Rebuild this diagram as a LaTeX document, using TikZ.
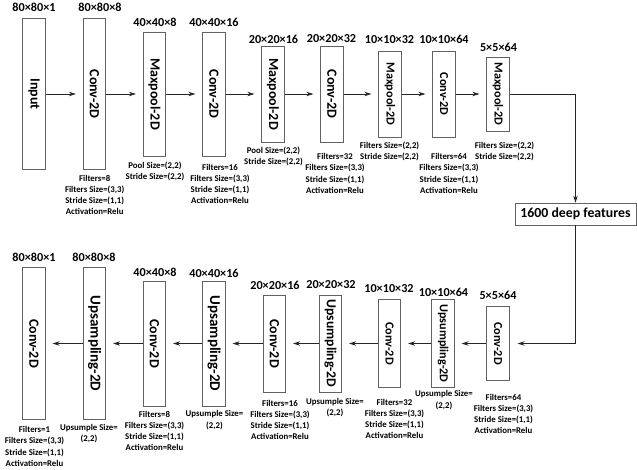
\documentclass[tikz,border=0pt]{standalone}
\usepackage{fontspec}
\usepackage{graphicx}
\setmainfont{Carlito}
\usetikzlibrary{arrows.meta}
\begin{document}
\begin{tikzpicture}[x=1pt,y=-1pt,
  layer/.style={draw=black!62, line width=0.8pt, fill=white, minimum width=22.5pt, inner sep=0pt,
    font=\bfseries\fontsize{14}{14}\selectfont},
  smalllayer/.style={layer, font=\bfseries\fontsize{12.2}{12.2}\selectfont},
  dimlabel/.style={inner sep=0pt, font=\bfseries\fontsize{12.2}{12.2}\selectfont},
  note/.style={inner sep=0pt, align=center, font=\bfseries\fontsize{8.8}{11.2}\selectfont},
  arr/.style={draw=black!85, line width=0.7pt, -{Stealth[length=7pt,width=4.5pt]}},
  gap/.style={shorten >=7pt}
]
\useasboundingbox (0,0) rectangle (637,469);

% ---------- top row ----------
\node[layer, minimum height=151pt] (T1) at (34,94) {\rotatebox{-90}{Input}};
\node[layer, minimum height=151pt] (T2) at (94.5,94) {\rotatebox{-90}{Conv-2D}};
\node[layer, minimum height=124pt] (T3) at (154.5,94) {\rotatebox{-90}{Maxpool-2D}};
\node[layer, minimum height=124pt] (T4) at (214,94) {\rotatebox{-90}{Conv-2D}};
\node[layer, minimum height=96pt] (T5) at (273,94) {\rotatebox{-90}{Maxpool-2D}};
\node[layer, minimum height=96pt] (T6) at (332,94) {\rotatebox{-90}{Conv-2D}};
\node[smalllayer, minimum height=86pt] (T7) at (390,94) {\rotatebox{-90}{Maxpool-2D}};
\node[smalllayer, minimum height=86pt] (T8) at (444,94) {\rotatebox{-90}{Conv-2D}};
\node[smalllayer, minimum height=74pt] (T9) at (498,94) {\rotatebox{-90}{Maxpool-2D}};

\node[dimlabel] (dT1) at (34,7) {80×80×1};
\node[dimlabel] (dT2) at (100,7) {80×80×8};
\node[dimlabel] (dT3) at (155,22) {40×40×8};
\node[dimlabel] (dT4) at (214,22) {40×40×16};
\node[dimlabel] (dT5) at (273.5,39) {20×20×16};
\node[dimlabel] (dT6) at (331.5,39) {20×20×32};
\node[dimlabel] (dT7) at (389.5,40) {10×10×32};
\node[dimlabel] (dT8) at (444,39) {10×10×64};
\node[dimlabel] (dT9) at (498.5,47) {5×5×64};

\node[note] (nT2) at (94.7,195) {Filters=8\\Filters Size=(3,3)\\Stride Size=(1,1)\\Activation=Relu};
\node[note] (nT3) at (155,171.5) {Pool Size=(2,2)\\Stride Size=(2,2)};
\node[note] (nT4) at (220,184) {Filters=16\\Filters Size=(3,3)\\Stride Size=(1,1)\\Activation=Relu};
\node[note] (nT5) at (273.5,156.5) {Pool Size=(2,2)\\Stride Size=(2,2)};
\node[note] (nT6) at (335,173.5) {Filters=32\\Filters Size=(3,3)\\Stride Size=(1,1)\\Activation=Relu};
\node[note] (nT7) at (389.5,151.5) {Filters Size=(2,2)\\Stride Size=(2,2)};
\node[note] (nT8) at (449,173.5) {Filters=64\\Filters Size=(3,3)\\Stride Size=(1,1)\\Activation=Relu};
\node[note] (nT9) at (504.5,151.5) {Filters Size=(2,2)\\Stride Size=(2,2)};

% ---------- bottleneck ----------
\node[draw=black!62, line width=0.8pt, minimum width=121pt, minimum height=22pt, inner sep=0pt,
  font=\bfseries\fontsize{13.8}{13.8}\selectfont] (F) at (575.5,214) {1600 deep features};

% ---------- bottom row ----------
\node[layer, minimum height=152pt] (B1) at (34,343.5) {\rotatebox{-90}{Conv-2D}};
\node[layer, minimum height=152pt, font=\bfseries\fontsize{15}{15}\selectfont] (B2) at (94.5,343.5) {\rotatebox{-90}{Upsampling-2D}};
\node[layer, minimum height=125pt] (B3) at (154.5,343.5) {\rotatebox{-90}{Conv-2D}};
\node[layer, minimum height=125pt, font=\bfseries\fontsize{15}{15}\selectfont] (B4) at (214,343.5) {\rotatebox{-90}{Upsampling-2D}};
\node[layer, minimum height=97pt] (B5) at (274.5,343.5) {\rotatebox{-90}{Conv-2D}};
\node[layer, minimum height=97pt, font=\bfseries\fontsize{13.7}{13.7}\selectfont] (B6) at (330.5,343.5) {\rotatebox{-90}{Upsumpling-2D}};
\node[smalllayer, minimum height=88pt] (B7) at (389.5,343.5) {\rotatebox{-90}{Conv-2D}};
\node[smalllayer, minimum height=88pt] (B8) at (443,343.5) {\rotatebox{-90}{Upsumpling-2D}};
\node[smalllayer, minimum height=74pt] (B9) at (498,343.5) {\rotatebox{-90}{Conv-2D}};

\node[dimlabel] (dB1) at (34,257) {80×80×1};
\node[dimlabel] (dB2) at (94,257) {80×80×8};
\node[dimlabel] (dB3) at (155,272) {40×40×8};
\node[dimlabel] (dB4) at (214,273) {40×40×16};
\node[dimlabel] (dB5) at (275,285) {20×20×16};
\node[dimlabel] (dB6) at (331,285) {20×20×32};
\node[dimlabel] (dB7) at (389,289) {10×10×32};
\node[dimlabel] (dB8) at (443.5,292) {10×10×64};
\node[dimlabel] (dB9) at (498,295) {5×5×64};

\node[note] (nB1) at (34.5,446.5) {Filters=1\\Filters Size=(3,3)\\Stride Size=(1,1)\\Activation=Relu};
\node[note] (nB2) at (89,433.5) {Upsumple Size=\\(2,2)};
\node[note] (nB3) at (154.5,431) {Filters=8\\Filters Size=(3,3)\\Stride Size=(1,1)\\Activation=Relu};
\node[note] (nB4) at (214.5,420) {Upsumple Size=\\(2,2)};
\node[note] (nB5) at (280,420) {Filters=16\\Filters Size=(3,3)\\Stride Size=(1,1)\\Activation=Relu};
\node[note] (nB6) at (335,407.5) {Upsumple Size=\\(2,2)};
\node[note] (nB7) at (394.5,419) {Filters=32\\Filters Size=(3,3)\\Stride Size=(1,1)\\Activation=Relu};
\node[note] (nB8) at (444,400) {Upsumple Size=\\(2,2)};
\node[note] (nB9) at (503.5,414) {Filters=64\\Filters Size=(3,3)\\Stride Size=(1,1)\\Activation=Relu};

% ---------- connectors ----------
\foreach \a/\b in {T1/T2,T2/T3,T3/T4,T4/T5,T5/T6,T6/T7,T7/T8,T8/T9,
                   B9/B8,B8/B7,B7/B6,B6/B5,B5/B4,B4/B3,B3/B2,B2/B1}
  \draw[arr, gap] (\a) -- (\b);
\draw[arr] (T9.east) -| (F.north);
\draw[arr, shorten >=8pt] (F.south) |- (B9.east);
\end{tikzpicture}
\end{document}
